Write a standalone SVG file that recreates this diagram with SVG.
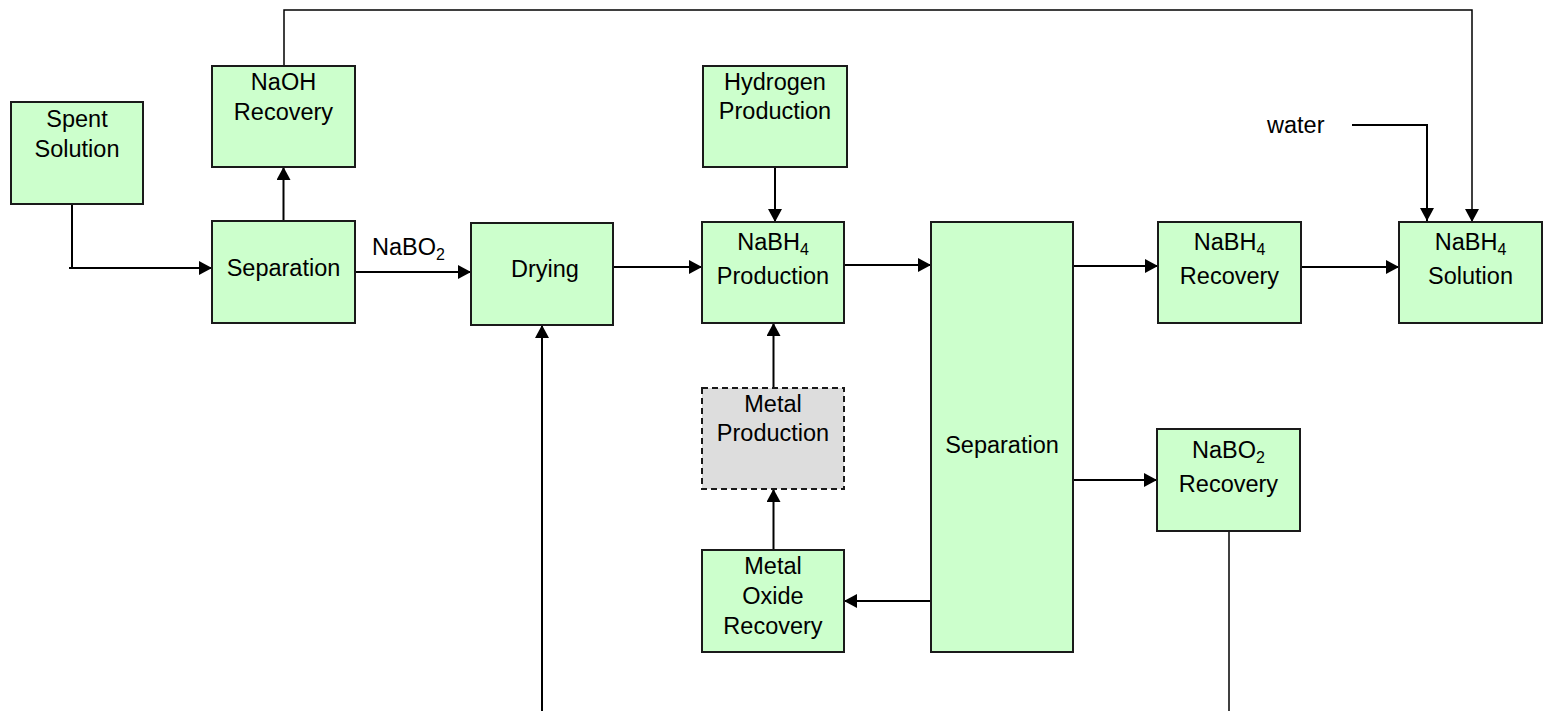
<svg xmlns="http://www.w3.org/2000/svg" width="1543" height="711" viewBox="0 0 1543 711">
<style>
.box{fill:#CCFFCC;stroke:#1a1a1a;stroke-width:2}
.dash{fill:#DDDDDD;stroke:#1a1a1a;stroke-width:2;stroke-dasharray:6,4}
text{font-family:"Liberation Sans",Arial,sans-serif;font-size:23.5px;fill:#000}
.c{text-anchor:middle}
.ln{fill:none;stroke:#000;stroke-width:2}
.thin{fill:none;stroke:#000;stroke-width:1.5}
.sub{font-size:16px}
</style>
<defs>
<marker id="ah" markerUnits="userSpaceOnUse" markerWidth="13" markerHeight="14" refX="13" refY="7" orient="auto">
<path d="M0,0 L13,7 L0,14 z" fill="#000"/>
</marker>
</defs>
<g id="connectors">
<polyline class="ln" points="72,204 72,268 69,268 212,268" marker-end="url(#ah)"/>
<line class="ln" x1="283.5" y1="221" x2="283.5" y2="167" marker-end="url(#ah)"/>
<polyline class="thin" points="284,66 284,10 1472,10 1472,222" marker-end="url(#ah)"/>
<line class="ln" x1="355" y1="272" x2="471" y2="272" marker-end="url(#ah)"/>
<line class="ln" x1="613" y1="267" x2="702" y2="267" marker-end="url(#ah)"/>
<line class="ln" x1="775" y1="167" x2="775" y2="222" marker-end="url(#ah)"/>
<line class="ln" x1="844" y1="265" x2="931" y2="265" marker-end="url(#ah)"/>
<line class="ln" x1="773.5" y1="388" x2="773.5" y2="323" marker-end="url(#ah)"/>
<line class="ln" x1="773.5" y1="550" x2="773.5" y2="489" marker-end="url(#ah)"/>
<line class="ln" x1="931" y1="601" x2="844" y2="601" marker-end="url(#ah)"/>
<line class="ln" x1="1073" y1="266" x2="1158" y2="266" marker-end="url(#ah)"/>
<line class="ln" x1="1301" y1="267" x2="1399" y2="267" marker-end="url(#ah)"/>
<line class="ln" x1="1071" y1="480" x2="1157" y2="480" marker-end="url(#ah)"/>
<line class="thin" x1="1229" y1="531" x2="1229" y2="711"/>
<line class="ln" x1="542" y1="711" x2="542" y2="325" marker-end="url(#ah)"/>
<polyline class="ln" points="1352,125 1427,125 1427,221" marker-end="url(#ah)"/>
<text x="372" y="255">NaBO<tspan class="sub" dy="5">2</tspan></text>
<text x="1267" y="133">water</text>
</g>
<g id="spent-solution">
<rect class="box" x="11" y="102" width="132" height="102"/>
<text class="c" x="77" y="127">Spent</text>
<text class="c" x="77" y="157">Solution</text>
</g>
<g id="naoh-recovery">
<rect class="box" x="212" y="66" width="143" height="101"/>
<text class="c" x="283.5" y="90">NaOH</text>
<text class="c" x="283.5" y="120">Recovery</text>
</g>
<g id="separation-1">
<rect class="box" x="212" y="221" width="143" height="102"/>
<text class="c" x="283.5" y="276">Separation</text>
</g>
<g id="drying">
<rect class="box" x="471" y="223" width="142" height="102"/>
<text class="c" x="545" y="277">Drying</text>
</g>
<g id="hydrogen-production">
<rect class="box" x="703" y="66" width="144" height="101"/>
<text class="c" x="775" y="90">Hydrogen</text>
<text class="c" x="775" y="119">Production</text>
</g>
<g id="nabh4-production">
<rect class="box" x="702" y="222" width="142" height="101"/>
<text class="c" x="773" y="250">NaBH<tspan class="sub" dy="5">4</tspan></text>
<text class="c" x="773" y="284">Production</text>
</g>
<g id="metal-production">
<rect class="dash" x="702" y="388" width="142" height="101"/>
<text class="c" x="773" y="412">Metal</text>
<text class="c" x="773" y="441">Production</text>
</g>
<g id="metal-oxide-recovery">
<rect class="box" x="702" y="550" width="142" height="102"/>
<text class="c" x="773" y="574">Metal</text>
<text class="c" x="773" y="604">Oxide</text>
<text class="c" x="773" y="634">Recovery</text>
</g>
<g id="separation-2">
<rect class="box" x="931" y="222" width="142" height="430"/>
<text class="c" x="1002" y="453">Separation</text>
</g>
<g id="nabh4-recovery">
<rect class="box" x="1158" y="222" width="143" height="101"/>
<text class="c" x="1229.5" y="250">NaBH<tspan class="sub" dy="5">4</tspan></text>
<text class="c" x="1229.5" y="284">Recovery</text>
</g>
<g id="nabh4-solution">
<rect class="box" x="1399" y="222" width="143" height="101"/>
<text class="c" x="1470.5" y="250">NaBH<tspan class="sub" dy="5">4</tspan></text>
<text class="c" x="1470.5" y="284">Solution</text>
</g>
<g id="nabo2-recovery">
<rect class="box" x="1157" y="429" width="143" height="102"/>
<text class="c" x="1228.5" y="458">NaBO<tspan class="sub" dy="5">2</tspan></text>
<text class="c" x="1228.5" y="492">Recovery</text>
</g>
</svg>
